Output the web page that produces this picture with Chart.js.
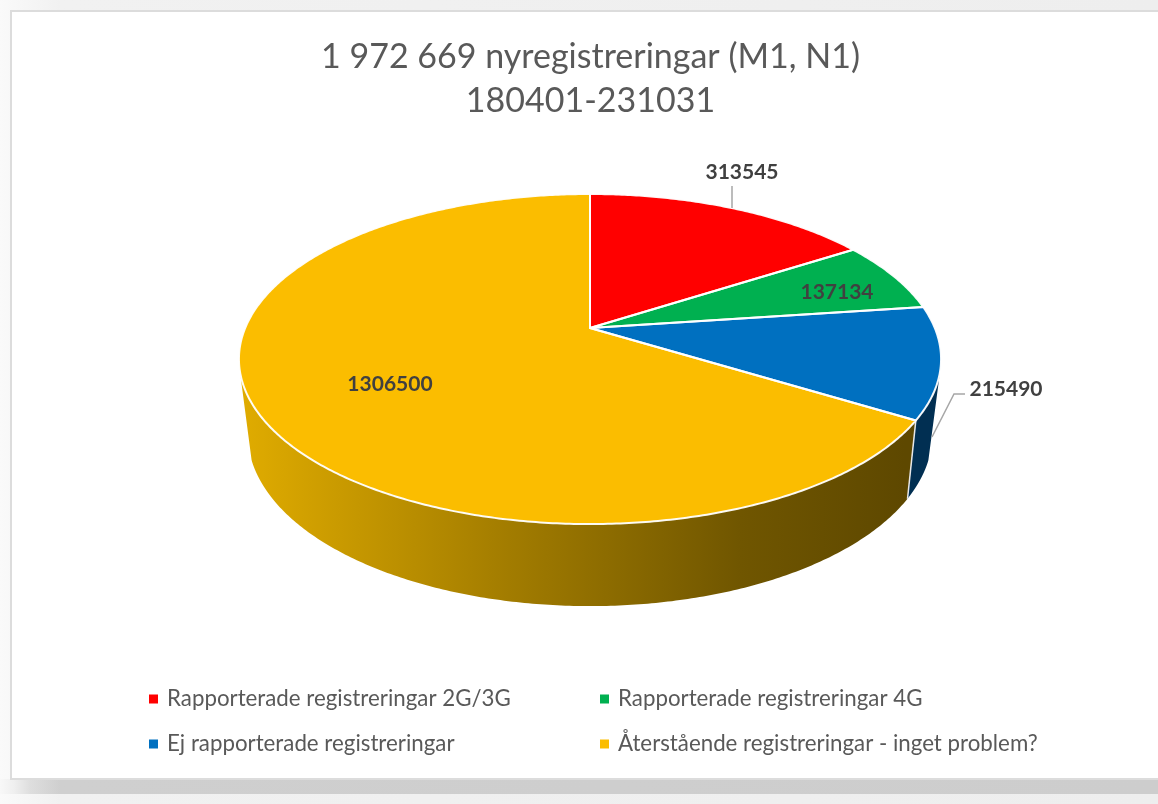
<!DOCTYPE html>
<html><head><meta charset="utf-8">
<script src="https://cdn.jsdelivr.net/npm/chart.js@4"></script>
<style>
html,body{margin:0;padding:0;width:1158px;height:804px;overflow:hidden;background:#efefef}
#bg{position:absolute;left:0;top:0;width:1158px;height:804px;background:linear-gradient(90deg,#fafafa 0,#f1f1f1 60px,#eeeeee 100%)}
#shadow{position:absolute;left:0;top:779px;width:1158px;height:15px;background:linear-gradient(90deg,#f8f8f8 0,#efefef 14px,#dedede 30px,#cfcfcf 60px,#cdcdcd 100%)}
#card{position:absolute;left:10px;top:10px;width:1160px;height:766px;background:#fff;border:2px solid #dcdcdc}
canvas{position:absolute;left:0;top:0}
</style></head><body>
<div id="bg"></div><div id="shadow"></div><div id="card"></div>
<canvas id="c" width="1158" height="804"></canvas>
<script>
const categories = ["Rapporterade registreringar 2G/3G","Rapporterade registreringar 4G","Ej rapporterade registreringar","Återstående registreringar - inget problem?"];
const values = [313545,137134,215490,1306500];
const colors = ["#ff0000","#00b050","#0070c0","#fbbd00"];
const titleLines = ["1 972 669 nyregistreringar (M1, N1)","180401-231031"];

const FONT = "Lato, 'Open Sans', sans-serif";
// perspective maps of the pie disc: top face and bottom face
const TOP = {x:590, y:328, d:344.8, a:159.2, c:0.188};
const BOT = {x:590, y:402.9, d:336, a:165, c:0.188};
function proj(m, th){
  const u=Math.sin(th), v=Math.cos(th), w=1+m.c*v;
  return [m.x+m.d*u/w, m.y-m.a*v/w];
}
function rim(ctx,m,a0,a1,first){
  const n=Math.max(4,Math.ceil(Math.abs(a1-a0)/0.01));
  for(let i=0;i<=n;i++){
    const p=proj(m,a0+(a1-a0)*i/n);
    if(i===0&&first) ctx.moveTo(p[0],p[1]); else ctx.lineTo(p[0],p[1]);
  }
}
const deg=Math.PI/180;
const labelSpots=[
  {x:742,y:172,line:[[732,186],[732,208]]},
  {x:837,y:292},
  {x:1006,y:389,line:[[965,394],[954,394],[932,437]]},
  {x:390,y:384}
];
const pie3d={
  id:'pie3d',
  beforeDraw(chart){
    if(chart.legend && !chart.legend._grid){
      chart.legend._grid=true;
      chart.legend.draw=function(){
        const ctx=chart.ctx, cols=[149,600], rows=[699,744];
        ctx.save();
        ctx.font="22.3px "+FONT; ctx.textBaseline='middle'; ctx.textAlign='left';
        this.legendItems.forEach((it,i)=>{
          const x=cols[i%2], y=rows[i>>1];
          ctx.fillStyle=it.fillStyle; ctx.fillRect(x,y-4.5,9,9);
          ctx.fillStyle='#595959'; ctx.fillText(it.text,x+18,y);
        });
        ctx.restore();
      };
    }
  },
  beforeDatasetDraw(chart,args){
    const ctx=chart.ctx, arcs=chart.getDatasetMeta(args.index).data;
    const ang=arcs.map(a=>[a.startAngle+Math.PI/2,a.endAngle+Math.PI/2]);
    ctx.save();
    // side walls, only the arcs that face the viewer
    const cut=ang[3][0];
    const grad=ctx.createLinearGradient(245,0,905,0);
    grad.addColorStop(0,'#dfab00');grad.addColorStop(0.4,'#a27c00');grad.addColorStop(0.75,'#705600');grad.addColorStop(1,'#5e4800');
    ctx.beginPath();rim(ctx,TOP,cut,256*deg,true);rim(ctx,BOT,251*deg,cut,false);ctx.closePath();
    ctx.fillStyle=grad;ctx.fill();
    ctx.beginPath();rim(ctx,TOP,104*deg,cut,true);rim(ctx,BOT,cut,109*deg,false);ctx.closePath();
    ctx.fillStyle='#012f52';ctx.fill();
    const p0=proj(TOP,cut),p1=proj(BOT,cut);
    ctx.beginPath();ctx.moveTo(p0[0],p0[1]);ctx.lineTo(p1[0],p1[1]);
    ctx.strokeStyle='#e8e8e8';ctx.lineWidth=1.5;ctx.stroke();
    // top face
    ang.forEach((a,i)=>{
      ctx.beginPath();ctx.moveTo(TOP.x,TOP.y);rim(ctx,TOP,a[0],a[1],false);ctx.closePath();
      ctx.fillStyle=arcs[i].options.backgroundColor;ctx.fill();
    });
    ctx.strokeStyle='rgba(255,255,255,0.95)';ctx.lineWidth=2;ctx.lineJoin='round';
    ang.forEach(a=>{
      ctx.beginPath();ctx.moveTo(TOP.x,TOP.y);rim(ctx,TOP,a[0],a[1],false);ctx.closePath();ctx.stroke();
    });
    ctx.restore();
    return false;
  },
  afterDatasetsDraw(chart){
    const ctx=chart.ctx, data=chart.data.datasets[0].data;
    ctx.save();
    ctx.textAlign='center';ctx.textBaseline='middle';
    labelSpots.forEach((s,i)=>{
      if(s.line){
        ctx.beginPath();s.line.forEach((p,j)=>j?ctx.lineTo(p[0],p[1]):ctx.moveTo(p[0],p[1]));
        ctx.strokeStyle='#a6a6a6';ctx.lineWidth=1.5;ctx.stroke();
      }
      ctx.font="bold 21px "+FONT;ctx.fillStyle='#404040';
      ctx.fillText(String(data[i]),s.x,s.y);
    });
    ctx.restore();
  }
};
new Chart(document.getElementById('c'),{
  type:'pie',
  data:{labels:categories,datasets:[{data:values,backgroundColor:colors,borderColor:'#ffffff',borderWidth:1.5}]},
  plugins:[pie3d],
  options:{
    responsive:false,animation:false,
    layout:{padding:{left:23}},
    plugins:{
      title:{display:true,text:titleLines,color:'#595959',font:{family:FONT,size:34,weight:'normal',lineHeight:1.295},padding:{top:35,bottom:10}},
      legend:{display:true,position:'bottom',labels:{font:{family:FONT,size:21}}},
      tooltip:{enabled:false}
    }
  }
});
</script>
</body></html>
